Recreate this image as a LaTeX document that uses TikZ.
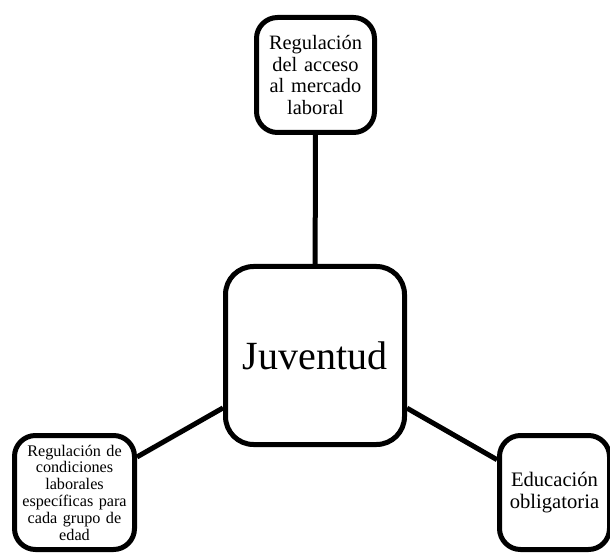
\documentclass[tikz,border=0pt]{standalone}
\usepackage{fontspec}
\setmainfont{Liberation Serif}
\begin{document}
\begin{tikzpicture}[x=1pt,y=-1pt,
  box/.style={draw=black, line width=5pt, fill=white, rounded corners=21pt,
    align=center, inner sep=0pt},
  link/.style={draw=black, line width=5pt}]
  \useasboundingbox (0,0) rectangle (610,553);
  \clip (0,0) rectangle (610,553);

  % hub
  \node[box, rounded corners=28pt, minimum width=179pt, minimum height=178pt,
    font=\fontsize{40}{44}\selectfont] (hub) at (315,355.5) {Juventud};

  % satellites
  \node[box, minimum width=118pt, minimum height=115pt, text width=110pt,
    font=\fontsize{20.4}{21.5}\selectfont] (acceso) at (315.5,75)
    {Regulación\\del acceso\\al mercado\\laboral};
  \node[box, minimum width=120pt, minimum height=114pt, text width=112pt,
    font=\fontsize{16.2}{16.8}\selectfont] (condiciones) at (74.5,492.5)
    {Regulación de\\condiciones\\laborales\\específicas para\\cada grupo de\\edad};
  \node[box, minimum width=110pt, minimum height=114pt, text width=106pt,
    font=\fontsize{20.6}{21.5}\selectfont] (educacion) at (554.5,492.5)
    {Educación\\obligatoria};

  % connectors
  \draw[link] (hub) -- (acceso);
  \draw[link] (hub) -- (condiciones);
  \draw[link] (hub) -- (educacion);
\end{tikzpicture}
\end{document}
